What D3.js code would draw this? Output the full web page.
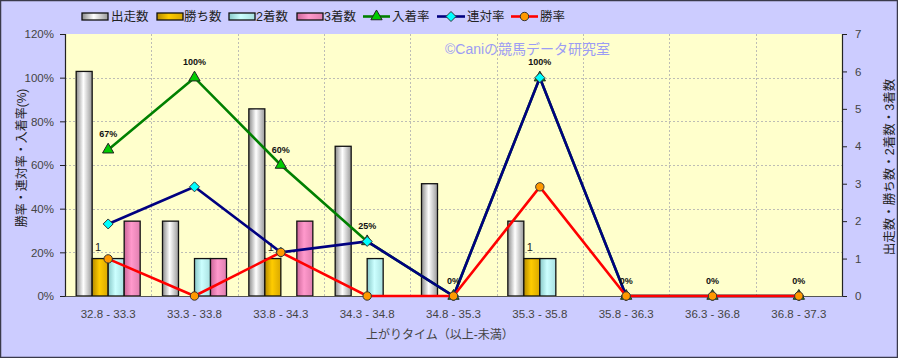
<!DOCTYPE html>
<html><head><meta charset="utf-8">
<script src="https://cdn.jsdelivr.net/npm/d3@7"></script>
<style>body{margin:0;background:#fff}svg{display:block}text{font-family:"Liberation Sans","Noto Sans CJK JP",sans-serif}</style>
</head><body><svg id="c" width="898" height="358"></svg>
<script>
const categories = ["32.8 - 33.3","33.3 - 33.8","33.8 - 34.3","34.3 - 34.8","34.8 - 35.3","35.3 - 35.8","35.8 - 36.3","36.3 - 36.8","36.8 - 37.3"];
const runs    = [6,2,5,4,3,2,0,0,0];
const wins    = [1,0,1,0,0,1,0,0,0];
const seconds = [1,1,0,1,0,1,0,0,0];
const thirds  = [2,1,2,0,0,0,0,0,0];
const placeRate  = [67,100,60,25,0,100,0,0,0];
const rentaiRate = [33,50,20,25,0,100,0,0,0];
const winRate    = [17,0,20,0,0,50,0,0,0];
const placeLabels = ["67%","100%","60%","25%","0%","100%","0%","0%","0%"];
const leftTicks = [0,20,40,60,80,100,120];
const rightTicks = [0,1,2,3,4,5,6,7];
const barNames = ["出走数","勝ち数","2着数","3着数"];
const lineNames = ["入着率","連対率","勝率"];

const svg = d3.select("#c");
const W=898,H=358, L=65, R=842, T=34, B=296;

svg.append("rect").attr("x",0.5).attr("y",0.5).attr("width",W-1).attr("height",H-1).attr("fill","#CCCCFF").attr("stroke","#3a3a4a").attr("stroke-width",1.5);
svg.append("rect").attr("x",L).attr("y",T).attr("width",R-L).attr("height",B-T).attr("fill","#FFFFCC");

const defs = svg.append("defs");
function grad(id, edgeL, mid, edgeR){
  const g = defs.append("linearGradient").attr("id",id).attr("x1","0").attr("x2","1").attr("y1","0").attr("y2","0");
  g.append("stop").attr("offset","0%").attr("stop-color",edgeL);
  g.append("stop").attr("offset","45%").attr("stop-color",mid);
  g.append("stop").attr("offset","100%").attr("stop-color",edgeR);
}
grad("g0","#8a8a8a","#ffffff","#9a9a9a");
grad("g1","#b58a00","#ffcc00","#d9a800");
grad("g2","#88c8c8","#ccffff","#a8e0e0");
grad("g3","#cc6699","#ff99cc","#e07fb0");
const fills = ["url(#g0)","url(#g1)","url(#g2)","url(#g3)"];

const x = d3.scaleBand().domain(categories).range([L,R]).padding(0);
const bw = x.bandwidth();
const x1 = d3.scaleBand().domain(barNames).range([bw/2-32, bw/2+32]).padding(0);
const yL = d3.scaleLinear().domain([0,120]).range([B,T]);
const yR = d3.scaleLinear().domain([0,7]).range([B,T]);

const grid = svg.append("g");
leftTicks.filter(t=>t>0 && t<120).forEach(t=>{
  grid.append("line").attr("x1",L).attr("x2",R).attr("y1",Math.round(yL(t))+0.5).attr("y2",Math.round(yL(t))+0.5)
    .attr("stroke","#bdbdb5").attr("stroke-dasharray","2,2");
});
categories.slice(1).forEach(c=>{
  const xx = Math.round(x(c))+0.5;
  grid.append("line").attr("x1",xx).attr("x2",xx).attr("y1",T).attr("y2",B)
    .attr("stroke","#bdbdb5").attr("stroke-dasharray","2,2");
});

const barSeries = [runs,wins,seconds,thirds];
barSeries.forEach((vals,si)=>{
  svg.append("g").selectAll("rect").data(vals.map((v,i)=>({v,c:categories[i]})).filter(d=>d.v>0)).join("rect")
    .attr("x",d=>x(d.c)+x1(barNames[si]))
    .attr("y",d=>yR(d.v))
    .attr("width",x1.bandwidth())
    .attr("height",d=>B-yR(d.v))
    .attr("fill",fills[si]).attr("stroke","#111").attr("stroke-width",1.3);
});
svg.append("g").selectAll("text").data(wins.map((v,i)=>({v,c:categories[i]})).filter(d=>d.v>0)).join("text")
  .attr("x",d=>x(d.c)+x1("勝ち数")+x1.bandwidth()/2-2).attr("y",d=>yR(d.v)-8)
  .attr("text-anchor","middle").attr("font-size",11).attr("fill","#222").text(d=>d.v);

const axL = svg.append("g").attr("transform",`translate(${L},0)`).call(d3.axisLeft(yL).tickValues(leftTicks).tickFormat(d=>d+"%").tickSize(5));
const axR = svg.append("g").attr("transform",`translate(${R},0)`).call(d3.axisRight(yR).tickValues(rightTicks).tickFormat(d3.format("d")).tickSize(5));
[axL,axR].forEach(a=>{
  a.select(".domain").attr("stroke","#222").attr("stroke-width",1.2);
  a.selectAll(".tick line").attr("stroke","#222");
  a.selectAll(".tick text").attr("font-size",11.5).attr("fill","#444").attr("font-family",'"Liberation Sans",sans-serif');
});
axL.selectAll(".tick text").attr("x",-11);
axR.selectAll(".tick text").attr("x",13);
const axB = svg.append("g").attr("transform",`translate(0,${B})`).call(d3.axisBottom(x).tickSize(0));
axB.select(".domain").attr("stroke","#555").attr("stroke-width",1);
axB.selectAll(".tick text").attr("font-size",11.5).attr("fill","#444").attr("dy",0).attr("y",22);

svg.append("text").attr("transform",`translate(26,158) rotate(-90)`).attr("text-anchor","middle")
  .attr("font-size",12).attr("fill","#222").text("勝率・連対率・入着率(%)");
svg.append("text").attr("transform",`translate(894,167) rotate(-90)`).attr("text-anchor","middle")
  .attr("font-size",12.5).attr("fill","#222").text("出走数・勝ち数・2着数・3着数");
svg.append("text").attr("x",440).attr("y",339).attr("text-anchor","middle")
  .attr("font-size",12).attr("fill","#444").text("上がりタイム（以上-未満）");

svg.append("text").attr("x",445).attr("y",54).attr("font-size",14).attr("fill","#9c9cf4").text("©Caniの競馬データ研究室");

const cx = c => x(c)+bw/2;
const lineData = [
  {vals:placeRate, color:"#008000", marker:"tri", mfill:"#00cc00"},
  {vals:rentaiRate, color:"#000080", marker:"dia", mfill:"#00ffff"},
  {vals:winRate, color:"#ff0000", marker:"circ", mfill:"#ff9900"}
];
const line = d3.line().x(d=>cx(d.c)).y(d=>yL(d.v));
function drawMarker(g, type, fill, px, py){
  if(type==="tri") g.append("path").attr("d",d3.symbol(d3.symbolTriangle,55)()).attr("transform",`translate(${px},${py})`).attr("fill",fill).attr("stroke","#222").attr("stroke-width",1);
  else if(type==="dia") g.append("path").attr("d",`M0,-5L5,0L0,5L-5,0Z`).attr("transform",`translate(${px},${py})`).attr("fill",fill).attr("stroke","#333").attr("stroke-width",1);
  else g.append("circle").attr("cx",px).attr("cy",py).attr("r",4.2).attr("fill",fill).attr("stroke","#333").attr("stroke-width",1);
}
lineData.forEach(s=>{
  const pts = s.vals.map((v,i)=>({v,c:categories[i]}));
  const g = svg.append("g");
  g.append("path").attr("d",line(pts)).attr("fill","none").attr("stroke",s.color).attr("stroke-width",2.6);
  pts.forEach(p=>drawMarker(g,s.marker,s.mfill,cx(p.c),yL(p.v)));
});
svg.append("g").selectAll("text").data(placeLabels.map((t,i)=>({t,v:placeRate[i],c:categories[i]}))).join("text")
  .attr("x",d=>cx(d.c)).attr("y",d=>yL(d.v)-12.5)
  .attr("text-anchor","middle").attr("font-size",9).attr("font-weight","bold").attr("fill","#111").text(d=>d.t);

const lg = svg.append("g").attr("font-size",12.5).attr("fill","#222");
const legBars = [{x:82,tx:111},{x:157,tx:184},{x:229,tx:256},{x:297,tx:324}];
legBars.forEach((p,i)=>{
  lg.append("rect").attr("x",p.x).attr("y",13).attr("width",26).attr("height",7).attr("fill",fills[i]).attr("stroke","#111").attr("stroke-width",1.3);
  lg.append("text").attr("x",p.tx).attr("y",21).text(barNames[i]);
});
const legLines = [{x1:363,x2:390,tx:392},{x1:437,x2:465,tx:467},{x1:511,x2:538,tx:540}];
legLines.forEach((p,i)=>{
  const s = lineData[i];
  lg.append("line").attr("x1",p.x1).attr("x2",p.x2).attr("y1",16.5).attr("y2",16.5).attr("stroke",s.color).attr("stroke-width",2.6);
  drawMarker(lg,s.marker,s.mfill,(p.x1+p.x2)/2,16.5);
  lg.append("text").attr("x",p.tx).attr("y",21).text(lineNames[i]);
});
</script></body></html>
